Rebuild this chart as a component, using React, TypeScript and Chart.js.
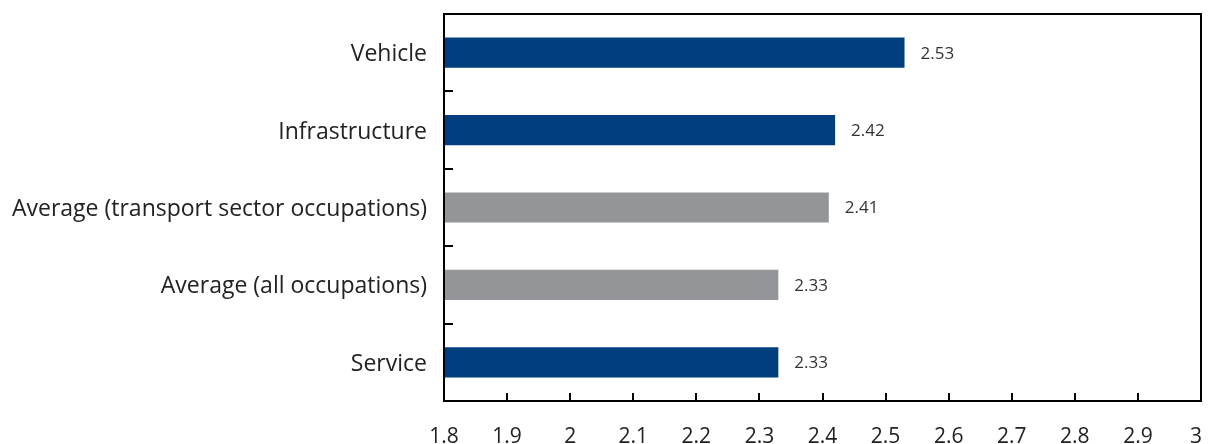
import React, { useEffect, useRef } from "react";
import { Chart, registerables } from "chart.js";

Chart.register(...registerables);

const categories = [
  "Vehicle",
  "Infrastructure",
  "Average (transport sector occupations)",
  "Average (all occupations)",
  "Service",
];
const values = [2.53, 2.42, 2.41, 2.33, 2.33];
const barColors = ["#003E7E", "#003E7E", "#939598", "#939598", "#003E7E"];
const xMin = 1.8;
const xMax = 3;
const xStep = 0.1;
const xTickLabels = ["1.8", "1.9", "2", "2.1", "2.2", "2.3", "2.4", "2.5", "2.6", "2.7", "2.8", "2.9", "3"];

const FONT = "'Open Sans', 'Noto Sans', sans-serif";

const framePlugin = {
  id: "frameAndLabels",
  afterDraw(chart: any) {
    const { ctx, chartArea, scales } = chart;
    const { left, right, top, bottom } = chartArea;
    ctx.save();
    ctx.strokeStyle = "#000";
    ctx.lineWidth = 2;
    ctx.strokeRect(left, top, right - left, bottom - top);
    ctx.beginPath();
    const xs = scales.x;
    xTickLabels.forEach((_, i) => {
      const px = Math.round(xs.getPixelForValue(xMin + i * xStep));
      ctx.moveTo(px, bottom);
      ctx.lineTo(px, bottom - 8);
    });
    const n = categories.length;
    const h = (bottom - top) / n;
    for (let i = 1; i < n; i++) {
      const py = Math.round(top + h * i);
      ctx.moveTo(left, py);
      ctx.lineTo(left + 9, py);
    }
    ctx.stroke();

    // x tick labels
    ctx.fillStyle = "#222";
    ctx.font = `21px ${FONT}`;
    ctx.textBaseline = "alphabetic";
    xTickLabels.forEach((lab, i) => {
      const px = xs.getPixelForValue(xMin + i * xStep);
      const w = ctx.measureText(lab).width;
      if (px + w / 2 > chart.width) {
        ctx.textAlign = "right";
        ctx.fillText(lab, chart.width, bottom + 42);
      } else {
        ctx.textAlign = "center";
        ctx.fillText(lab, px, bottom + 42);
      }
    });

    // data labels
    ctx.fillStyle = "#333";
    ctx.font = `17px ${FONT}`;
    ctx.textAlign = "left";
    ctx.textBaseline = "middle";
    const meta = chart.getDatasetMeta(0);
    meta.data.forEach((bar: any, i: number) => {
      ctx.fillText(values[i].toFixed(2), bar.x + 16, bar.y + 1);
    });
    ctx.restore();
  },
};

export default function App() {
  const ref = useRef<HTMLCanvasElement>(null);
  useEffect(() => {
    if (!ref.current) return;
    const chart = new Chart(ref.current, {
      type: "bar",
      data: {
        labels: categories,
        datasets: [
          {
            data: values,
            backgroundColor: barColors,
            borderWidth: 0,
            barPercentage: 0.39,
            categoryPercentage: 1,
          },
        ],
      },
      options: {
        indexAxis: "y",
        animation: false,
        responsive: false,
        maintainAspectRatio: false,
        layout: { padding: { top: 6, right: 1, left: 0, bottom: 0 } },
        plugins: { legend: { display: false }, tooltip: { enabled: false } },
        scales: {
          x: {
            min: xMin,
            max: xMax,
            border: { display: false },
            grid: { display: false, drawTicks: false },
            ticks: { display: false, stepSize: xStep },
            afterFit: (s: any) => {
              s.height = 43;
              s.paddingLeft = 0;
              s.paddingRight = 0;
            },
          },
          y: {
            border: { display: false },
            grid: { display: false, drawTicks: false },
            ticks: {
              color: "#222",
              padding: 17,
              labelOffset: 2,
              autoSkip: false,
              font: { family: FONT, size: 23 },
            },
            afterFit: (s: any) => {
              s.width = 436;
              s.paddingTop = 0;
              s.paddingBottom = 0;
            },
          },
        },
      },
      plugins: [framePlugin],
    });
    return () => chart.destroy();
  }, []);
  return (
    <canvas
      ref={ref}
      width={1194}
      height={436}
      style={{ display: "block", width: 1194, height: 436 }}
    />
  );
}
